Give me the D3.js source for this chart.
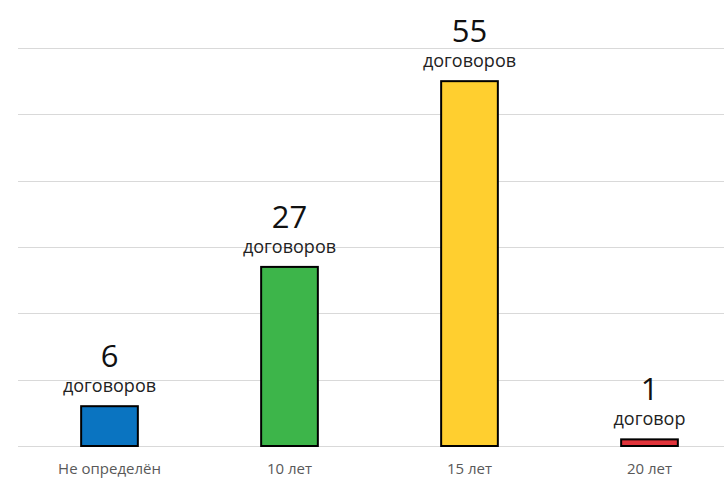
<!DOCTYPE html>
<html>
<head>
<meta charset="utf-8">
<script src="https://cdn.jsdelivr.net/npm/d3@7"></script>
<style>
  html, body { margin: 0; padding: 0; background: #ffffff; }
  svg { display: block; }
</style>
</head>
<body>
<svg id="chart" width="724" height="478"></svg>
<script>
const categories = ["Не определён", "10 лет", "15 лет", "20 лет"];
const values = [6, 27, 55, 1];
const unitLabels = ["договоров", "договоров", "договоров", "договор"];
const colors = ["#0A74C1", "#3DB54A", "#FFCF2F", "#E0333A"];
const gridTicks = [0, 10, 20, 30, 40, 50, 60];

const svg = d3.select("#chart");
const W = 724, H = 478;
const x = d3.scaleBand().domain(categories).range([19.5, 739.5]).padding(0);
const y = d3.scaleLinear().domain([0, 60]).range([446, 48]);
const barW = x.bandwidth() * 0.315;
const font = "'Open Sans', 'Noto Sans', sans-serif";

// gridlines
svg.append("g").selectAll("line").data(gridTicks).join("line")
  .attr("x1", 18).attr("x2", W)
  .attr("y1", d => Math.round(y(d)) + 0.5).attr("y2", d => Math.round(y(d)) + 0.5)
  .attr("stroke", "#d9d9d9").attr("stroke-width", 1);

// bars
const data = categories.map((c, i) => ({c, v: values[i], u: unitLabels[i], col: colors[i]}));
svg.append("g").selectAll("rect").data(data).join("rect")
  .attr("x", d => x(d.c) + x.bandwidth() / 2 - barW / 2)
  .attr("y", d => y(d.v))
  .attr("width", barW)
  .attr("height", d => y(0) - y(d.v))
  .attr("fill", d => d.col)
  .attr("stroke", "#000")
  .attr("stroke-width", 2);

// value numbers
svg.append("g").selectAll("text").data(data).join("text")
  .attr("x", d => x(d.c) + x.bandwidth() / 2)
  .attr("y", d => y(d.v) - 39)
  .attr("text-anchor", "middle")
  .attr("font-family", font)
  .attr("font-size", 31)
  .attr("fill", "#111")
  .text(d => d.v);

// unit labels
svg.append("g").selectAll("text").data(data).join("text")
  .attr("x", d => x(d.c) + x.bandwidth() / 2)
  .attr("y", d => y(d.v) - 14)
  .attr("text-anchor", "middle")
  .attr("font-family", font)
  .attr("font-size", 18)
  .attr("fill", "#222")
  .text(d => d.u);

// category axis labels
const axis = d3.axisBottom(x).tickSize(0).tickPadding(0);
const gAxis = svg.append("g").attr("transform", "translate(0,474)").call(axis);
gAxis.select(".domain").remove();
gAxis.selectAll("text")
  .attr("dy", "0")
  .attr("font-family", font)
  .attr("font-size", 15)
  .attr("fill", "#595959");
</script>
</body>
</html>
